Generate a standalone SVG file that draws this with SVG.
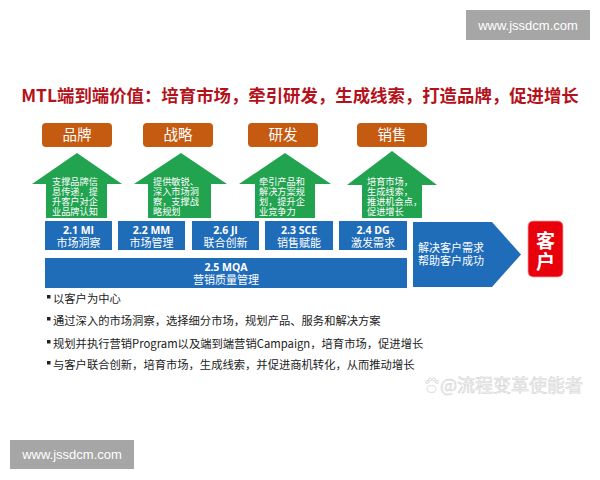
<svg xmlns="http://www.w3.org/2000/svg" width="600" height="480" viewBox="0 0 600 480">
<style>
.cjk{font-family:"Noto Sans CJK SC","Noto Sans",sans-serif}
.wm{fill:#a6a6a6}
.wmt{font-family:"Liberation Sans",sans-serif;font-size:13px;fill:#fff}
.org{fill:#c55a11}
.orgt{font-size:14.5px;fill:#fff}
.grn{fill:#22a34f}
.grnt{font-size:9.2px;fill:#fff}
.blu{fill:#1f6cb9}
.b1{font-family:"Open Sans","Noto Sans",sans-serif;font-weight:bold;font-size:10.5px;fill:#fff}
.b2{font-size:11px;fill:#fff}
.bul{font-size:11.3px;fill:#222}
</style>
<rect width="600" height="480" fill="#fff"/>
<g id="watermark-top"><rect class="wm" x="466" y="10" width="124" height="30"/><text class="wmt" x="528" y="29.5" text-anchor="middle">www.jssdcm.com</text></g>
<g id="watermark-bottom"><rect class="wm" x="10" y="440" width="124" height="29"/><text class="wmt" x="72" y="459" text-anchor="middle">www.jssdcm.com</text></g>
<text id="title" class="cjk" x="300" y="101.5" text-anchor="middle" font-size="17.4" font-weight="bold" fill="#b3121b">MTL端到端价值：培育市场，牵引研发，生成线索，打造品牌，促进增长</text>

<g id="brand"><rect class="org" x="42" y="123" width="70" height="24" rx="4"/><text class="cjk orgt" x="77" y="140" text-anchor="middle">品牌</text></g>
<g id="strategy"><rect class="org" x="143" y="123" width="70" height="24" rx="4"/><text class="cjk orgt" x="178" y="140" text-anchor="middle">战略</text></g>
<g id="rnd"><rect class="org" x="248" y="123" width="70" height="24" rx="4"/><text class="cjk orgt" x="283" y="140" text-anchor="middle">研发</text></g>
<g id="sales"><rect class="org" x="357" y="123" width="70" height="24" rx="4"/><text class="cjk orgt" x="392" y="140" text-anchor="middle">销售</text></g>

<g id="arrow-brand"><path class="grn" d="M77 153 L122 184 L107 184 L107 218 L46 218 L46 184 L32 184 Z"/>
<text class="cjk grnt"><tspan x="52" y="184.5">支撑品牌信</tspan><tspan x="52" y="194.5">息传递，提</tspan><tspan x="52" y="204.5">升客户对企</tspan><tspan x="52" y="214.5">业品牌认知</tspan></text></g>
<g id="arrow-strategy"><path class="grn" d="M181 153 L227 184 L211 184 L211 218 L148 218 L148 184 L134 184 Z"/>
<text class="cjk grnt"><tspan x="153" y="184.5">提供敏锐、</tspan><tspan x="153" y="194.5">深入市场洞</tspan><tspan x="153" y="204.5">察，支撑战</tspan><tspan x="153" y="214.5">略规划</tspan></text></g>
<g id="arrow-rnd"><path class="grn" d="M285 153 L331 184 L315 184 L315 218 L255 218 L255 184 L239 184 Z"/>
<text class="cjk grnt"><tspan x="259" y="184.5">牵引产品和</tspan><tspan x="259" y="194.5">解决方案规</tspan><tspan x="259" y="204.5">划，提升企</tspan><tspan x="259" y="214.5">业竞争力</tspan></text></g>
<g id="arrow-sales"><path class="grn" d="M392 151 L437 185 L422 185 L422 218 L362 218 L362 185 L347 185 Z"/>
<text class="cjk grnt"><tspan x="367" y="184.5">培育市场，</tspan><tspan x="367" y="194.5">生成线索，</tspan><tspan x="367" y="204.5">推进机会点，</tspan><tspan x="367" y="214.5">促进增长</tspan></text></g>

<g id="mi"><rect class="blu" x="45" y="221" width="67" height="29"/><text class="b1" x="78.5" y="233.5" text-anchor="middle">2.1 MI</text><text class="cjk b2" x="78.5" y="246.5" text-anchor="middle">市场洞察</text></g>
<g id="mm"><rect class="blu" x="118" y="221" width="67" height="29"/><text class="b1" x="151.5" y="233.5" text-anchor="middle">2.2 MM</text><text class="cjk b2" x="151.5" y="246.5" text-anchor="middle">市场管理</text></g>
<g id="ji"><rect class="blu" x="192" y="221" width="67" height="29"/><text class="b1" x="225.5" y="233.5" text-anchor="middle">2.6 JI</text><text class="cjk b2" x="225.5" y="246.5" text-anchor="middle">联合创新</text></g>
<g id="sce"><rect class="blu" x="265" y="221" width="68" height="29"/><text class="b1" x="299" y="233.5" text-anchor="middle">2.3 SCE</text><text class="cjk b2" x="299" y="246.5" text-anchor="middle">销售赋能</text></g>
<g id="dg"><rect class="blu" x="339" y="221" width="68" height="29"/><text class="b1" x="373" y="233.5" text-anchor="middle">2.4 DG</text><text class="cjk b2" x="373" y="246.5" text-anchor="middle">激发需求</text></g>
<g id="mqa"><rect class="blu" x="45" y="258" width="362" height="30"/><text class="b1" x="226" y="270.5" text-anchor="middle">2.5 MQA</text><text class="cjk b2" x="226" y="284" text-anchor="middle">营销质量管理</text></g>

<g id="solve"><path class="blu" d="M413 222 L492 222 L521 254.5 L492 287 L413 287 Z"/>
<text class="cjk b2"><tspan x="418" y="252">解决客户需求</tspan><tspan x="418" y="265">帮助客户成功</tspan></text></g>
<g id="customer"><rect x="528" y="221" width="35" height="56" rx="5" fill="#e8000b" stroke="#f4a0a0" stroke-width="0.8"/>
<text class="cjk" font-size="19" font-weight="bold" fill="#fff" text-anchor="middle"><tspan x="545.5" y="248">客</tspan><tspan x="545.5" y="269">户</tspan></text></g>

<g id="bullets" class="cjk bul">
<rect x="47" y="295" width="3.5" height="3.5" fill="#222"/><text x="53" y="303">以客户为中心</text>
<rect x="47" y="317" width="3.5" height="3.5" fill="#222"/><text x="53" y="325">通过深入的市场洞察，选择细分市场，规划产品、服务和解决方案</text>
<rect x="47" y="340" width="3.5" height="3.5" fill="#222"/><text x="53" y="348">规划并执行营销Program以及端到端营销Campaign，培育市场，促进增长</text>
<rect x="47" y="361" width="3.5" height="3.5" fill="#222"/><text x="53" y="369">与客户联合创新，培育市场，生成线索，并促进商机转化，从而推动增长</text>
</g>

<g id="watermark-logo" fill="none" stroke="#d6d6d6" stroke-width="0.9">
<ellipse cx="431.5" cy="389" rx="4.5" ry="3.5"/><circle cx="427" cy="382" r="1.5"/><circle cx="430" cy="379.5" r="1.5"/><circle cx="434" cy="379.5" r="1.5"/><circle cx="437" cy="382" r="1.5"/>
<text x="440" y="391.5" font-family="'Noto Sans CJK SC',sans-serif" font-size="18" fill="#f3f3f3" stroke="#d2d2d2" stroke-width="0.5">@流程变革使能者</text>
</g>
</svg>
